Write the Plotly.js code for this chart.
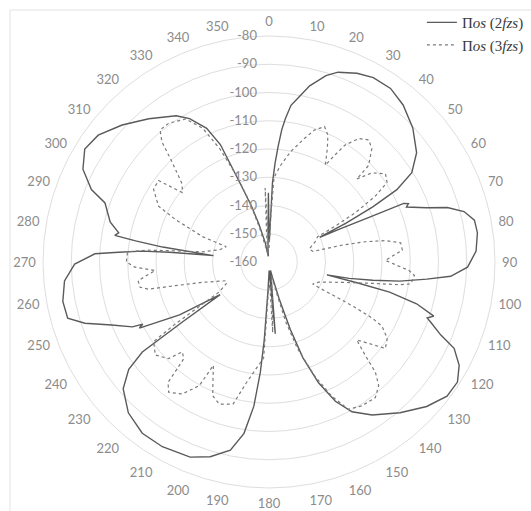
<!DOCTYPE html>
<html>
<head>
<meta charset="utf-8">
<script src="https://cdn.plot.ly/plotly-3.0.1.min.js"></script>
<style>html,body{margin:0;padding:0;background:#fff;}#chart{width:531px;height:511px;}</style>
</head>
<body>
<div id="chart"></div>
<script>
// Series names
const seriesNames = ["Π<i>os</i> (2<i>fzs</i>)", "Π<i>os</i> (3<i>fzs</i>)"];

// Radial ticks (dB)
const radialTicks = [-160, -150, -140, -130, -120, -110, -100, -90, -80];
// Angular ticks (deg)
const angleTicks = [0,10,20,30,40,50,60,70,80,90,100,110,120,130,140,150,160,170,180,190,200,210,220,230,240,250,260,270,280,290,300,310,320,330,340,350];
const angleLabels = ["0","10","20","30","40","50","60","70","80","90","100","110","120","130","140","150","160","170","180","190","200","210","220","230","240","250","260","270","280","290","300","310","320","330","340","350"];

// Πos (2fzs) — angle (deg) and level (dB)
const theta2 = [0.5,1.5,2.5,3.5,4.5,5.5,6.5,8,10.3,13,17,20,25,29.5,35,40.5,47,53.5,58,60.5,62,63.2,64,65,66,66.5,67.3,68.2,71,73,75.5,78.5,82,87,91.5,94.5,96.2,98.3,100,101.5,102.5,103.3,104,105.8,108.2,109.5,110.5,113,115,118.5,122.5,127,132.5,139,146,151,154.5,157.7,160.5,162.5,164.5,167,170,173,175,176,179,182,183.5,184.5,186,188.3,191.6,196.8,202,210,216.5,223,229,232.6,234.6,235.3,236.3,239.4,243,243.8,244.6,248.2,251.6,254.4,259.2,264.7,269.4,272.7,273.7,274.9,275.6,276.6,278,279,279.8,281,284.2,289.8,292.2,296.5,301.5,306.6,313,320,327.6,331,335,337.5,338.5,340,342.5,345,349,353,356,358.5,359.5,360.5];
const level2 = [-153,-150,-132,-125,-119,-113,-109,-104,-100.6,-96,-91,-88.5,-86.3,-85,-85,-86.9,-90.4,-95,-100.4,-108,-118.4,-129.6,-140,-132,-121,-108,-106.5,-107.6,-101,-94,-88.7,-85.8,-85.5,-86.6,-89.7,-95.5,-103.8,-113.2,-122.7,-131,-139,-128,-116,-105.7,-98.6,-100.6,-98.8,-94,-87.7,-83.4,-80.9,-81.1,-84.3,-89.3,-94.7,-99.4,-105.4,-113.8,-124,-135,-146,-154,-157,-153,-134.5,-152,-157,-150,-132,-120.8,-108.7,-98.7,-92,-88,-85.5,-84.5,-84.6,-87,-91.6,-97.5,-105,-123,-139.2,-123.2,-108.5,-110.2,-106.5,-100,-91.3,-86,-85.7,-87.3,-91.2,-98.3,-106.6,-115,-124.6,-140.2,-122,-112.2,-104.6,-105.8,-102,-98.3,-92.1,-86.4,-83.5,-84.7,-88.9,-93.8,-98.7,-102,-107.8,-115,-123,-131,-139,-146,-153,-158,-155,-148,-135.5,-153];

// Πos (3fzs)
const theta3 = [0.5,2,3.4,6.8,11,16,19,22.3,24.9,27.2,30.2,31.6,33,36,39.2,42.2,45.9,46.6,49.1,52.9,56,58.2,60.3,61.6,62.5,66,72,76.5,77,78.1,79.6,81.7,84.9,89.2,93.5,95.3,98.8,99.9,101.7,105.7,112,116.7,117.3,117.5,117.8,118.5,119.6,122.8,126.6,131.6,134.1,136,138.4,141.9,147.2,151.7,155,158.2,161.8,164.4,166,170,174,177,178,181,182,183.2,190.5,194.2,199.2,202.8,205,208.3,209.4,213.3,217.6,220,220.5,221.4,224,226.1,230.7,235.4,236.5,237.5,239,243,246.4,248,253,255.8,257.3,258.9,261.9,265.7,267.8,270,274.1,275.6,276.8,278.7,284,289.7,290.9,294.4,296.8,302.2,306.4,308.7,311.9,315.9,318.3,320.5,324.2,329.8,333.6,336.5,339.4,342.3,344.7,348,352,355,357,358,360.5];
const level3 = [-155,-145,-130,-125.6,-120.3,-114.5,-110.6,-108.2,-110.5,-114.8,-120.4,-115.6,-110.7,-106,-104.2,-105.8,-110.9,-117.3,-111.8,-108.3,-109.6,-115.7,-124.9,-133.5,-140.6,-142,-145,-144,-133.6,-125.2,-118.1,-112.9,-112.6,-118.8,-110.3,-108.3,-109.2,-113.2,-122.8,-133.4,-141,-142.7,-138,-132,-126,-118.5,-114,-110.2,-108.7,-118.5,-112.6,-105.8,-101.5,-99,-99.4,-100.8,-107.7,-116.7,-127.8,-138.2,-148,-155,-150,-135,-152,-150,-145,-126,-116.7,-108.1,-106.7,-108.6,-113,-118.5,-109.8,-104.1,-101.8,-104.4,-108.9,-114.4,-115.8,-110.7,-108,-110.4,-120,-131,-139.4,-143,-143.5,-142,-135.4,-125.9,-116.2,-113.5,-113.2,-119.6,-112.5,-109.5,-109.8,-117.1,-126.7,-136.2,-142,-143.9,-134.8,-123.7,-116.2,-111.7,-111.4,-120.7,-118.7,-110.7,-103,-99.4,-99.4,-101.4,-107.1,-116.2,-127.3,-138,-148.2,-155,-157,-150,-133.8,-152,-155];

const traces = [
  {type:'scatterpolar', mode:'lines', theta: theta2, r: level2, name: seriesNames[0],
   line:{color:'#5a5a5a', width:1.4}},
  {type:'scatterpolar', mode:'lines', theta: theta3, r: level3, name: seriesNames[1],
   line:{color:'#7a7a7a', width:1.2, dash:'dot'}}
];

const tickFont = {family:'Lato, Liberation Sans, sans-serif', size:13, color:'#8c8c8c'};

const layout = {
  width:531, height:511,
  margin:{l:43, r:36, t:36, b:23, autoexpand:false},
  paper_bgcolor:'#ffffff',
  showlegend:true,
  legend:{x:1.075, xanchor:'right', y:1.066, yanchor:'top', bgcolor:'rgba(0,0,0,0)',
          font:{family:'Liberation Serif, serif', size:15, color:'#3a3a3a'}, itemwidth:30, tracegroupgap:0},
  polar:{
    domain:{x:[0,1], y:[0,1]},
    bgcolor:'#ffffff',
    radialaxis:{range:[-160,-80], tickmode:'array', tickvals: radialTicks, ticktext: radialTicks.map(String), angle:90,
      side:'counterclockwise', showline:false, ticks:'outside', ticklen:7, tickcolor:'rgba(0,0,0,0)',
      gridcolor:'#dedede', gridwidth:1, tickfont: tickFont, tickangle:90},
    angularaxis:{rotation:90, direction:'clockwise', tickmode:'array', tickvals: angleTicks, ticktext: angleLabels,
      showgrid:false, showline:true, linecolor:'#dedede', linewidth:1, ticks:'outside', ticklen:4,
      tickcolor:'rgba(0,0,0,0)', tickfont: tickFont}
  },
  shapes:[
    {type:'line', xref:'paper', yref:'paper', x0:-0.073, x1:1.1, y0:1.0575, y1:1.0575, line:{color:'#e3e3e3', width:1}},
    {type:'line', xref:'paper', yref:'paper', x0:-0.073, x1:-0.073, y0:-0.06, y1:1.0575, line:{color:'#e3e3e3', width:1}}
  ]
};

Plotly.newPlot('chart', traces, layout, {displayModeBar:false, staticPlot:true});
</script>
</body>
</html>
